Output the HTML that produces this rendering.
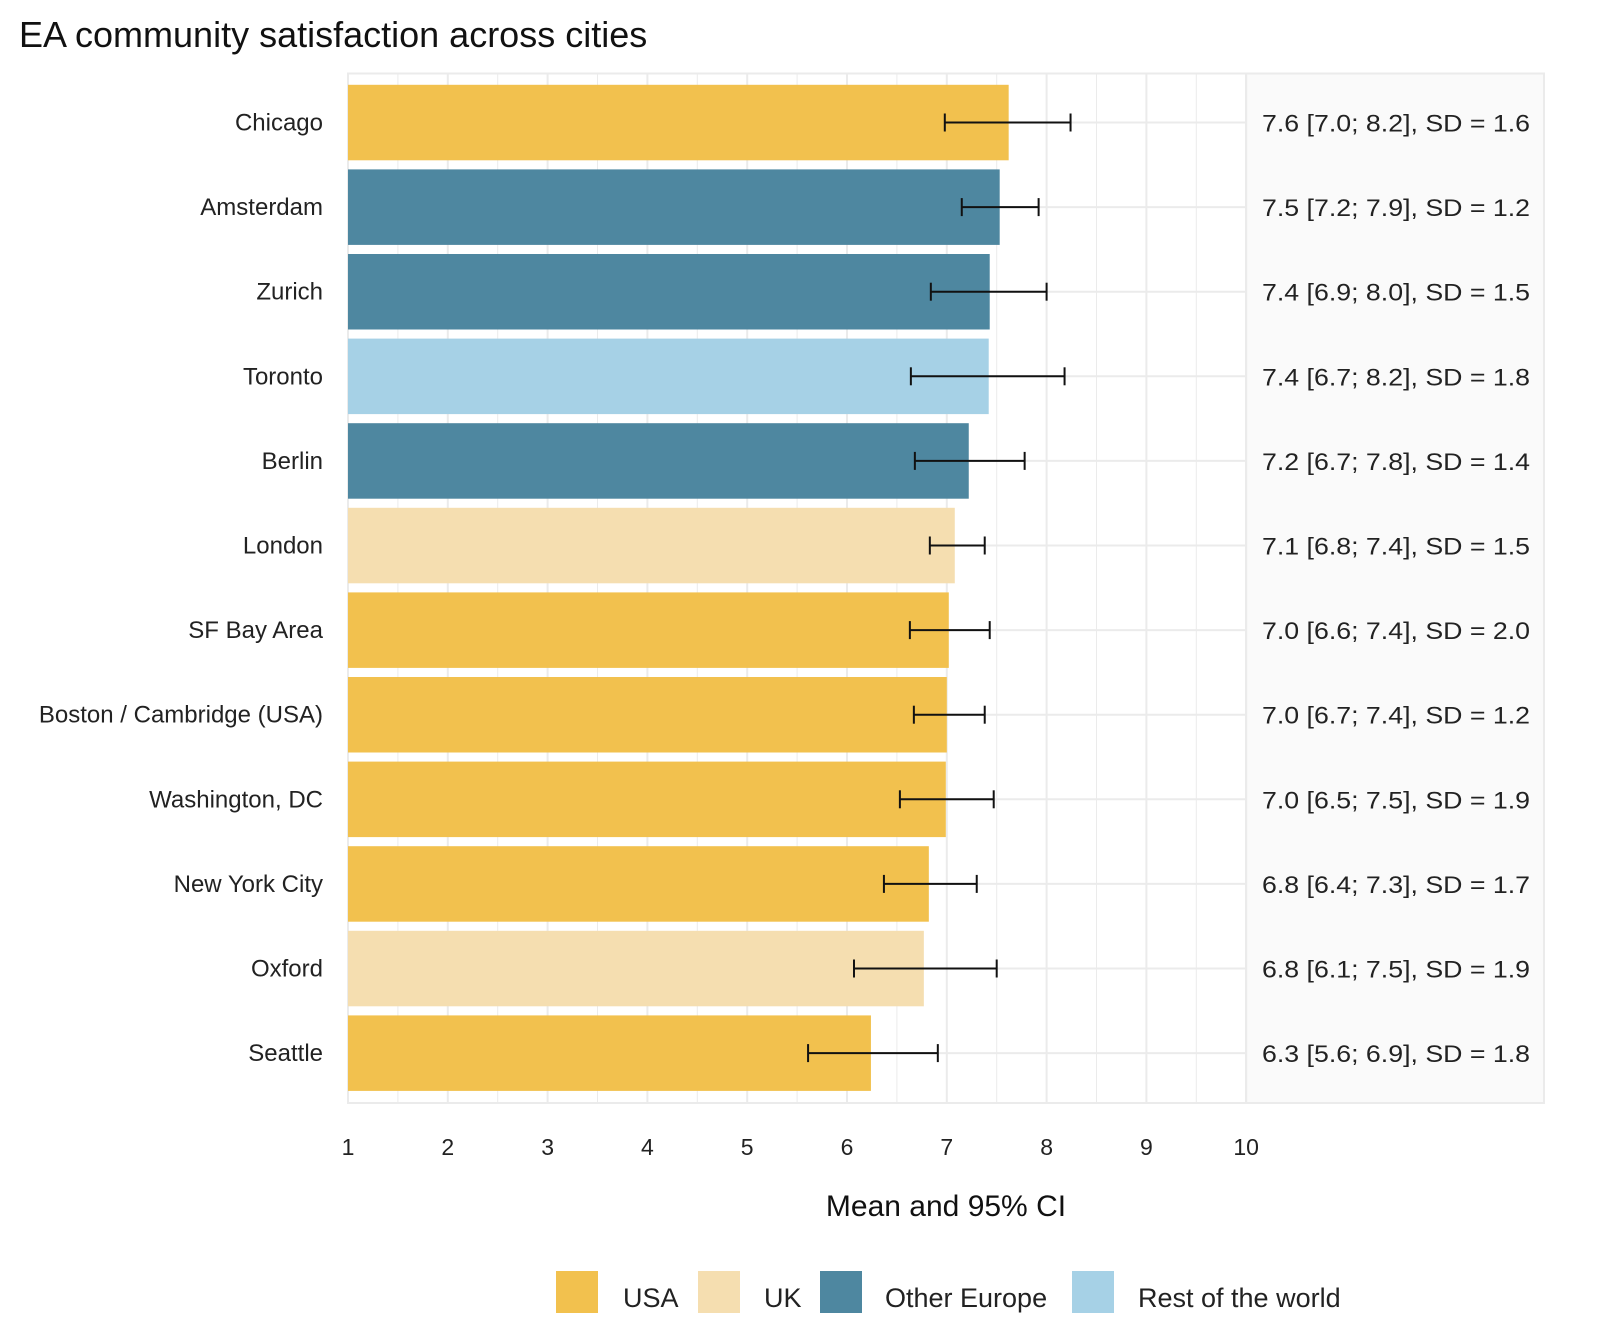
<!DOCTYPE html>
<html><head><meta charset="utf-8"><style>
body{margin:0;background:#fff;}
svg{display:block;font-family:"Liberation Sans",sans-serif;}
</style></head><body>
<svg id="chart" width="1600" height="1334">
<text x="19" y="47" font-size="36" fill="#111">EA community satisfaction across cities</text>
</svg>
<script>
const cities=["Chicago","Amsterdam","Zurich","Toronto","Berlin","London","SF Bay Area","Boston / Cambridge (USA)","Washington, DC","New York City","Oxford","Seattle"];
const regions=["USA","Other Europe","Other Europe","Rest of the world","Other Europe","UK","USA","USA","USA","USA","UK","USA"];
const means=[7.62,7.53,7.43,7.42,7.22,7.08,7.02,7.0,6.99,6.82,6.77,6.24];
const ciLow=[6.98,7.15,6.84,6.64,6.68,6.83,6.63,6.67,6.53,6.37,6.07,5.61];
const ciHigh=[8.24,7.92,8.0,8.18,7.78,7.38,7.43,7.38,7.47,7.3,7.5,6.91];
const labels=["7.6 [7.0; 8.2], SD = 1.6","7.5 [7.2; 7.9], SD = 1.2","7.4 [6.9; 8.0], SD = 1.5","7.4 [6.7; 8.2], SD = 1.8","7.2 [6.7; 7.8], SD = 1.4","7.1 [6.8; 7.4], SD = 1.5","7.0 [6.6; 7.4], SD = 2.0","7.0 [6.7; 7.4], SD = 1.2","7.0 [6.5; 7.5], SD = 1.9","6.8 [6.4; 7.3], SD = 1.7","6.8 [6.1; 7.5], SD = 1.9","6.3 [5.6; 6.9], SD = 1.8"];
const legendNames=["USA","UK","Other Europe","Rest of the world"];
const ticks=[1,2,3,4,5,6,7,8,9,10];
const colors={"USA":"#f2c14e","UK":"#f5deb0","Other Europe":"#4e87a0","Rest of the world":"#a6d1e6"};
const svg=document.getElementById('chart');
const NS="http://www.w3.org/2000/svg";
const X=v=>348+(v-1)*99.8;
const Y=i=>122.5+i*84.6;
function mk(tag,attrs,parent){const e=document.createElementNS(NS,tag);for(const k in attrs)e.setAttribute(k,attrs[k]);(parent||svg).appendChild(e);return e;}
let p=mk('rect',{x:348,y:73.5,width:898,height:1029.5,fill:'#fff',stroke:'#ebebeb','stroke-width':2});


let lp=mk('rect',{x:1246,y:73.5,width:298,height:1029.5,fill:'#fafafa',stroke:'#ebebeb','stroke-width':2});


for(let v=1;v<=10;v+=0.5){
  const g=mk('line',{x1:X(v),x2:X(v),y1:73.5,y2:1103,stroke:'#ebebeb','stroke-width':v%1?1:2});
  
  
}
cities.forEach((c,i)=>{
  const g=mk('line',{x1:348,x2:1246,y1:Y(i),y2:Y(i),stroke:'#ebebeb','stroke-width':2});
  
  
});
ticks.forEach(t=>{
  const e=mk('text',{x:X(t),y:1155,'font-size':23,'text-anchor':'middle',fill:'#222'});e.textContent=t;
  
  
});
cities.forEach((c,i)=>{
  const b=mk('rect',{x:X(1),y:Y(i)-37.7,width:X(means[i])-X(1),height:75.5,fill:colors[regions[i]]});
  
  
  const eb=mk('g',{stroke:'#111','stroke-width':2});
  
  
  mk('line',{x1:X(ciLow[i]),x2:X(ciHigh[i]),y1:Y(i),y2:Y(i)},eb);
  mk('line',{x1:X(ciLow[i]),x2:X(ciLow[i]),y1:Y(i)-9,y2:Y(i)+9},eb);
  mk('line',{x1:X(ciHigh[i]),x2:X(ciHigh[i]),y1:Y(i)-9,y2:Y(i)+9},eb);
  const t=mk('text',{x:323,y:Y(i)+8,'font-size':24,'text-anchor':'end',fill:'#222'});t.textContent=c;
  
  
  const l=mk('text',{x:1262,y:Y(i)+9,'font-size':24,textLength:268,lengthAdjust:'spacingAndGlyphs',fill:'#222'});l.textContent=labels[i];
  
  
});
const at=mk('text',{x:946,y:1216,'font-size':30,'text-anchor':'middle',fill:'#111'});at.textContent="Mean and 95% CI";


const keyX=[556,698,820,1072],txtX=[623,764,885,1138];
legendNames.forEach((n,i)=>{
  const g=mk('g',{});
  
  
  mk('rect',{x:keyX[i],y:1271,width:42,height:42,fill:colors[n]},g);
  const t=mk('text',{x:txtX[i],y:1307,'font-size':27,fill:'#222'},g);t.textContent=n;
});
</script>
</body></html>
